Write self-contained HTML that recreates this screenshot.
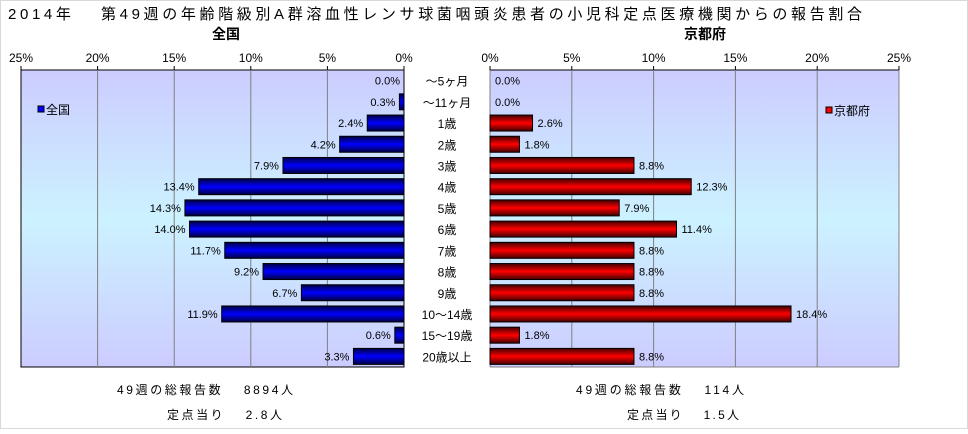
<!DOCTYPE html>
<html><head><meta charset="utf-8"><style>
body{margin:0;background:#fff;width:968px;height:429px;overflow:hidden;font-family:"Liberation Sans","Noto Sans CJK JP",sans-serif}
svg text{font-family:"Liberation Sans","Noto Sans CJK JP",sans-serif}
</style></head><body>
<svg width="968" height="429" xmlns="http://www.w3.org/2000/svg">
<defs>
<linearGradient id="bg" x1="0" y1="0" x2="0" y2="1">
<stop offset="0" stop-color="#ccccff"/><stop offset="0.5" stop-color="#ccf2ff"/><stop offset="1" stop-color="#ccccff"/></linearGradient>
<linearGradient id="gb" x1="0" y1="0" x2="0" y2="1">
<stop offset="0" stop-color="#000040"/><stop offset="0.5" stop-color="#0000ff"/><stop offset="1" stop-color="#000040"/></linearGradient>
<linearGradient id="gr" x1="0" y1="0" x2="0" y2="1">
<stop offset="0" stop-color="#400000"/><stop offset="0.5" stop-color="#ff0000"/><stop offset="1" stop-color="#400000"/></linearGradient>
</defs>
<rect x="0.5" y="0.5" width="967" height="428" fill="#fff" stroke="#d8d8d8"/>
<text x="8" y="19" font-size="15" textLength="854" lengthAdjust="spacing">2014年　 第49週の年齢階級別A群溶血性レンサ球菌咽頭炎患者の小児科定点医療機関からの報告割合</text>
<text x="226" y="39" font-size="14" font-weight="bold" text-anchor="middle">全国</text>
<text x="705" y="39" font-size="14" font-weight="bold" text-anchor="middle">京都府</text>
<g id="g"></g>
<text x="117" y="394" font-size="12" textLength="176" lengthAdjust="spacing">49週の総報告数　 8894人</text>
<text x="167" y="419" font-size="12" textLength="115" lengthAdjust="spacing">定点当り　 2.8人</text>
<text x="576" y="394" font-size="12" textLength="168" lengthAdjust="spacing">49週の総報告数　 114人</text>
<text x="627" y="419" font-size="12" textLength="112" lengthAdjust="spacing">定点当り　 1.5人</text>
</svg>
<script>
const categories=["～5ヶ月","～11ヶ月","1歳","2歳","3歳","4歳","5歳","6歳","7歳","8歳","9歳","10～14歳","15～19歳","20歳以上"];
const national=[0.0,0.3,2.4,4.2,7.9,13.4,14.3,14.0,11.7,9.2,6.7,11.9,0.6,3.3];
const kyoto=[0.0,0.0,2.6,1.8,8.8,12.3,7.9,11.4,8.8,8.8,8.8,18.4,1.8,8.8];
const ticks=[0,5,10,15,20,25];
const NS="http://www.w3.org/2000/svg",G=document.getElementById('g');
const pTop=70,pBot=367,band=(pBot-pTop)/categories.length,bh=16;
const xl=v=>404-v/25*383, xr=v=>490+v/25*409, yc=i=>pTop+band*(i+0.5);
function mk(t,a,txt){const e=document.createElementNS(NS,t);for(const k in a)e.setAttribute(k,a[k]);if(txt!=null)e.textContent=txt;G.appendChild(e);return e;}
let e;
e=mk('rect',{x:21,y:pTop,width:383,height:pBot-pTop,fill:'url(#bg)',stroke:'#000'});


e=mk('rect',{x:490,y:pTop,width:409,height:pBot-pTop,fill:'url(#bg)'});


mk('line',{x1:490,y1:pTop,x2:899,y2:pTop,stroke:'#000'});
mk('line',{x1:490,y1:pTop,x2:490,y2:pBot,stroke:'#808080'});
mk('line',{x1:490,y1:pBot,x2:899,y2:pBot,stroke:'#808080'});
ticks.forEach(t=>{
 if(t>0&&t<25){mk('line',{x1:xl(t),y1:pTop,x2:xl(t),y2:pBot,stroke:'#808080'});mk('line',{x1:xr(t),y1:pTop,x2:xr(t),y2:pBot,stroke:'#808080'});}
 mk('line',{x1:xl(t),y1:pTop-4,x2:xl(t),y2:pTop,stroke:'#000'});mk('line',{x1:xr(t),y1:pTop-4,x2:xr(t),y2:pTop,stroke:'#000'});
 e=mk('text',{x:xl(t),y:62,'font-size':12,'text-anchor':'middle'},t+'%');
 
 
 e=mk('text',{x:xr(t),y:62,'font-size':12,'text-anchor':'middle'},t+'%');
 
 
});
mk('line',{x1:899,y1:pTop,x2:899,y2:pBot,stroke:'#808080'});
categories.forEach((c,i)=>{
 const y=yc(i);
 e=mk('text',{x:447,y:y+5,'font-size':12,'text-anchor':'middle'},c);
 
 
 const v=national[i];
 if(v>0){e=mk('rect',{x:xl(v),y:y-bh/2,width:404-xl(v),height:bh,fill:'url(#gb)',stroke:'#000'});
 
 }
 e=mk('text',{x:xl(v)-4,y:y+4,'font-size':11,'text-anchor':'end'},v.toFixed(1)+'%');
 
 
 const k=kyoto[i];
 if(k>0){e=mk('rect',{x:490,y:y-bh/2,width:xr(k)-490,height:bh,fill:'url(#gr)',stroke:'#000'});
 
 }
 e=mk('text',{x:xr(k)+5,y:y+4,'font-size':11},k.toFixed(1)+'%');
 
 
});
e=mk('rect',{x:38,y:106,width:6,height:6,fill:'#0000ff',stroke:'#000'});


e=mk('text',{x:46,y:114,'font-size':12},'全国');


e=mk('rect',{x:826,y:107,width:6,height:6,fill:'#ff0000',stroke:'#000'});


e=mk('text',{x:834,y:115,'font-size':12},'京都府');


</script>
</body></html>
